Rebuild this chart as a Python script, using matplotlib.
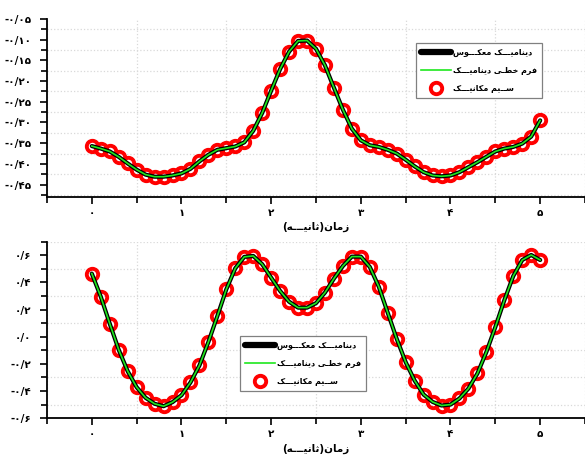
import matplotlib
matplotlib.use("Agg")
import matplotlib.pyplot as plt
from matplotlib.ticker import MultipleLocator, FixedLocator, FixedFormatter

# ---- data ----
t = [round(0.1 * i, 1) for i in range(51)]

y_top = [-0.357, -0.363, -0.370, -0.383, -0.399, -0.414, -0.426, -0.431, -0.431, -0.428,
         -0.423, -0.412, -0.394, -0.378, -0.366, -0.362, -0.358, -0.348, -0.320, -0.277,
         -0.223, -0.171, -0.129, -0.103, -0.102, -0.122, -0.162, -0.216, -0.269, -0.315,
         -0.343, -0.355, -0.359, -0.366, -0.375, -0.390, -0.406, -0.420, -0.428, -0.430,
         -0.428, -0.420, -0.408, -0.396, -0.383, -0.370, -0.363, -0.359, -0.351, -0.334,
         -0.295]

y_bot = [0.465, 0.295, 0.096, -0.096, -0.254, -0.372, -0.450, -0.494, -0.512, -0.482,
         -0.431, -0.337, -0.212, -0.039, 0.152, 0.349, 0.504, 0.588, 0.595, 0.534,
         0.435, 0.337, 0.258, 0.214, 0.214, 0.247, 0.325, 0.428, 0.521, 0.590,
         0.590, 0.514, 0.369, 0.177, -0.015, -0.187, -0.323, -0.426, -0.480, -0.507,
         -0.500, -0.455, -0.382, -0.271, -0.113, 0.071, 0.268, 0.447, 0.565, 0.602,
         0.565]

x_ticks = [0, 1, 2, 3, 4, 5]
x_ticklabels = ["۰", "۱", "۲", "۳", "۴", "۵"]
top_yticks = [-0.05, -0.10, -0.15, -0.20, -0.25, -0.30, -0.35, -0.40, -0.45]
top_yticklabels = ["-۰/۰۵", "-۰/۱۰", "-۰/۱۵", "-۰/۲۰", "-۰/۲۵", "-۰/۳۰", "-۰/۳۵", "-۰/۴۰", "-۰/۴۵"]
bot_yticks = [0.6, 0.4, 0.2, 0.0, -0.2, -0.4, -0.6]
bot_yticklabels = ["۰/۶", "۰/۴", "۰/۲", "۰/۰", "-۰/۲", "-۰/۴", "-۰/۶"]

lbl_inverse = "دینامیـــک معکـــوس"
lbl_linear = "فرم خطـی دینامیـــک"
lbl_mech = "ســیم مکانیـــک"
lbl_x = "زمان(ثانیـــه)"

# ---- minimal arabic shaping (matplotlib has no bidi / joining) ----
# isolated, final, initial, medial
FORMS = {
    "ا": ("\uFE8D", "\uFE8E", None, None),
    "د": ("\uFEA9", "\uFEAA", None, None),
    "ر": ("\uFEAD", "\uFEAE", None, None),
    "ز": ("\uFEAF", "\uFEB0", None, None),
    "و": ("\uFEED", "\uFEEE", None, None),
    "ن": ("\uFEE5", "\uFEE6", "\uFEE7", "\uFEE8"),
    "م": ("\uFEE1", "\uFEE2", "\uFEE3", "\uFEE4"),
    "ع": ("\uFEC9", "\uFECA", "\uFECB", "\uFECC"),
    "س": ("\uFEB1", "\uFEB2", "\uFEB3", "\uFEB4"),
    "ف": ("\uFED1", "\uFED2", "\uFED3", "\uFED4"),
    "خ": ("\uFEA5", "\uFEA6", "\uFEA7", "\uFEA8"),
    "ط": ("\uFEC1", "\uFEC2", "\uFEC3", "\uFEC4"),
    "ه": ("\uFEE9", "\uFEEA", "\uFEEB", "\uFEEC"),
    "ث": ("\uFE99", "\uFE9A", "\uFE9B", "\uFE9C"),
    "ی": ("\uFBFC", "\uFBFD", "\uFBFE", "\uFBFF"),
    "ک": ("\uFB8E", "\uFB8F", "\uFB90", "\uFB91"),
    "ـ": ("\u0640", "\u0640", "\u0640", "\u0640"),
}


def shape(txt):
    out = []
    for i, ch in enumerate(txt):
        if ch not in FORMS:
            out.append(ch)
            continue
        prv = txt[i - 1] if i > 0 else ""
        nxt = txt[i + 1] if i + 1 < len(txt) else ""
        join_prev = prv in FORMS and FORMS[prv][2] is not None
        join_next = FORMS[ch][2] is not None and nxt in FORMS
        iso, fin, ini, med = FORMS[ch]
        if join_prev and join_next:
            out.append(med)
        elif join_prev:
            out.append(fin)
        elif join_next:
            out.append(ini)
        else:
            out.append(iso)
    mirror = {"(": ")", ")": "("}
    return "".join(mirror.get(c, c) for c in reversed(out))


# ---- styles ----
c_BLACK = "black"
c_GREEN = "#1ee81e"
c_RED = "#ff0000"
c_GRID = "#d9d9d9"
FS = 7.5

plt.rcParams["font.family"] = ["DejaVu Sans"]
plt.rcParams["font.weight"] = "bold"

fig = plt.figure(figsize=(5.85, 4.58), dpi=100)
ax_top = fig.add_axes([0.0803, 0.5699, 0.9197, 0.3886])
ax_bot = fig.add_axes([0.0803, 0.0870, 0.9197, 0.3853])


def draw(ax, y, yticks, yticklabels, ylim, ystep, leg_anchor):
    ax.plot(t, y, linestyle="none", marker="o", markersize=8.2, markerfacecolor="none",
            markeredgecolor=c_RED, markeredgewidth=2.8, zorder=2, label=shape(lbl_mech))
    ax.plot(t, y, color=c_BLACK, linewidth=3.0, solid_capstyle="round", zorder=3,
            label=shape(lbl_inverse))
    ax.plot(t, y, color=c_GREEN, linewidth=1.2, zorder=4, label=shape(lbl_linear))

    ax.set_xlim(-0.5, 5.5)
    ax.set_ylim(*ylim)
    ax.xaxis.set_major_locator(FixedLocator(x_ticks))
    ax.xaxis.set_major_formatter(FixedFormatter(x_ticklabels))
    ax.xaxis.set_minor_locator(MultipleLocator(0.5))
    ax.yaxis.set_major_locator(FixedLocator(yticks))
    ax.yaxis.set_major_formatter(FixedFormatter(yticklabels))
    ax.yaxis.set_minor_locator(MultipleLocator(ystep))

    for side in ["top", "right"]:
        ax.spines[side].set_visible(False)
    for side in ["left", "bottom"]:
        ax.spines[side].set_linewidth(1.3)
    ax.tick_params(which="both", direction="out", width=1.2, labelsize=FS)
    ax.tick_params(which="major", length=5, pad=3)
    ax.tick_params(which="minor", length=4)
    ax.tick_params(axis="y", which="major", pad=6)
    ax.grid(which="minor", linestyle=":", color=c_GRID, linewidth=0.9)
    ax.grid(which="major", visible=False)
    ax.set_xlabel(shape(lbl_x), fontsize=FS, fontweight="bold", labelpad=3)

    handles, labels = ax.get_legend_handles_labels()
    order = [1, 2, 0]
    leg = ax.legend([handles[i] for i in order], [labels[i] for i in order],
                    loc="upper left", bbox_to_anchor=leg_anchor, borderaxespad=0,
                    fancybox=False, framealpha=1, edgecolor="#808080",
                    fontsize=5.8, handlelength=3.7, handletextpad=0.3,
                    labelspacing=1.1, borderpad=0.6)
    leg.get_frame().set_linewidth(0.9)
    leg.legend_handles[0].set_linewidth(4.5)


draw(ax_top, y_top, top_yticks, top_yticklabels, (-0.48, -0.05), 0.025, (0.686, 0.865))
draw(ax_bot, y_bot, bot_yticks, bot_yticklabels, (-0.6, 0.7), 0.1, (0.359, 0.463))

plt.savefig("out.png", dpi=100)
plt.close()
